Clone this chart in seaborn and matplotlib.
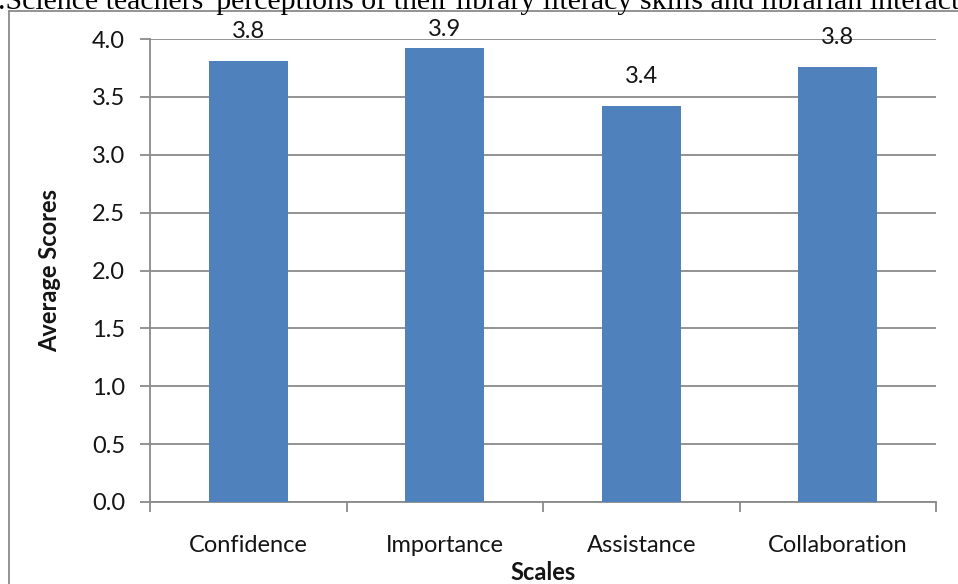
import matplotlib
matplotlib.use("Agg")
import matplotlib.pyplot as plt
import seaborn as sns
import pandas as pd
from matplotlib.lines import Line2D

# Survey scales and their mean scores
scales = ["Confidence", "Importance", "Assistance", "Collaboration"]
scores = [3.81, 3.92, 3.42, 3.76]
y_ticks = [0.0, 0.5, 1.0, 1.5, 2.0, 2.5, 3.0, 3.5, 4.0]
title = ".Science teachers' perceptions of their library literacy skills and librarian interaction"

df = pd.DataFrame({"Scales": scales, "Average Scores": scores})

sns.set_theme(style="white")
plt.rcParams["font.family"] = ["Lato", "DejaVu Sans"]

W, H, DPI = 958, 584, 100
fig = plt.figure(figsize=(W / DPI, H / DPI), dpi=DPI)
ax = fig.add_axes([150 / W, 1 - 502 / H, (936 - 150) / W, (502 - 39) / H])

grid_col = "#8a8a8a"
bar_col = "#4F81BD"
txt_col = "#141414"
fs = 17

sns.barplot(data=df, x="Scales", y="Average Scores", color=bar_col,
            width=0.4, saturation=1, ax=ax, zorder=3)
for p in ax.patches:
    p.set_edgecolor("none")

ax.set_ylim(0, 4.0)
ax.set_xlim(-0.5, len(scales) - 0.5)
ax.set_yticks(y_ticks)
ax.set_yticklabels([f"{t:.1f}" for t in y_ticks])
ax.yaxis.grid(True, color=grid_col, linewidth=1.3, zorder=0)
ax.set_axisbelow(True)

for side in ["top", "right"]:
    ax.spines[side].set_visible(False)
for side in ["left", "bottom"]:
    ax.spines[side].set_color(grid_col)
    ax.spines[side].set_linewidth(1.3)

# Category boundaries carry the x ticks (Excel style)
ax.set_xticks([i + 0.5 for i in range(-1, len(scales))], minor=False)
ax.set_xticklabels([])
ax.set_xticks(range(len(scales)), minor=True)
ax.set_xticklabels(scales, minor=True)
ax.tick_params(axis="x", which="major", direction="out", length=7,
               width=1.3, color=grid_col, bottom=True)
ax.tick_params(axis="x", which="minor", length=0, labelsize=fs,
               pad=24, labelcolor=txt_col)
ax.tick_params(axis="y", direction="out", length=7, width=1.3,
               color=grid_col, left=True, labelsize=fs, pad=11,
               labelcolor=txt_col)

ax.set_xlabel("Scales", fontsize=fs, fontweight="bold", labelpad=3,
              color=txt_col)
ax.set_ylabel("Average Scores", fontsize=fs, fontweight="bold",
              labelpad=22, color=txt_col)

# Value labels above the bars
for i, v in enumerate(scores):
    ax.text(i, min(v + 0.165, 3.99), f"{v:.1f}", ha="center", va="bottom",
            fontsize=fs, color=txt_col, clip_on=False)

# Outer chart frame (top and left edges visible)
fig.add_artist(Line2D([9 / W, 9 / W], [0, 1 - 11 / H], transform=fig.transFigure,
                      color=grid_col, linewidth=1.3))
fig.add_artist(Line2D([9 / W, 1], [1 - 11 / H, 1 - 11 / H], transform=fig.transFigure,
                      color=grid_col, linewidth=1.3))

fig.text(-2 / W, 1 - 9 / H, title, ha="left", va="baseline",
         fontsize=21.5, family=["Liberation Serif", "DejaVu Serif"], color="black")

fig.savefig("out.png", dpi=DPI, facecolor="white")
